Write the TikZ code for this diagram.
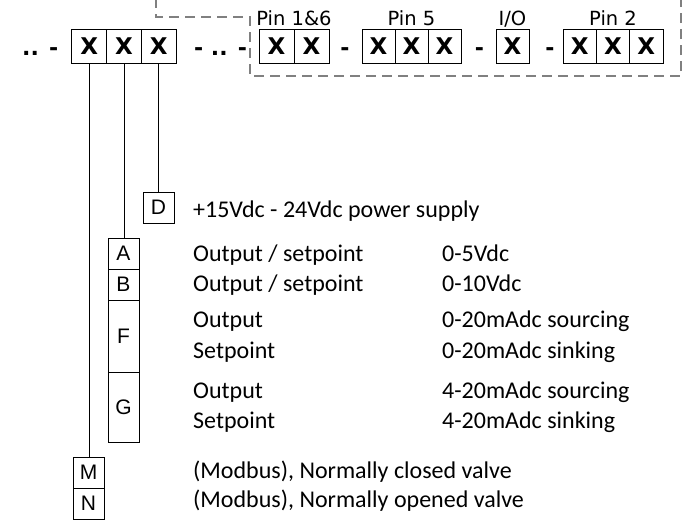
\documentclass[tikz,border=0pt]{standalone}
\usepackage{fontspec}
\setmainfont{Carlito}
\newfontfamily\xfont{DejaVu Sans}
\newfontfamily\pinfont{DejaVu Sans}
\newfontfamily\lfont{Liberation Sans}
\begin{document}
\begin{tikzpicture}[x=1pt,y=-1pt,
  xcell/.style={draw, line width=1pt, inner sep=0pt, minimum height=34pt, minimum width=#1, font=\xfont\bfseries\fontsize{23}{23}\selectfont},
  xcell/.default=34.7pt,
  sep/.style={inner sep=0pt, anchor=base, font=\xfont\bfseries\fontsize{22}{22}\selectfont},
  pinlbl/.style={inner sep=0pt, anchor=base, font=\pinfont\fontsize{19.5}{19.5}\selectfont},
  lbox/.style={draw, line width=1pt, inner sep=0pt, minimum width=31pt, minimum height=#1, font=\lfont\fontsize{21}{21}\selectfont},
  lbox/.default=31pt,
  txt/.style={inner sep=0pt, anchor=base west, font=\fontsize{24}{24}\selectfont},
  wire/.style={line width=1pt},
  frame/.style={draw=black!50, line width=1.2pt, dash pattern=on 10pt off 6pt}]
\useasboundingbox (0,0) rectangle (685,520);
% dashed frame
\draw[frame] (156,-2) -- (156,17) -- (250,17) -- (250,76) -- (681,76) -- (681,-2);
% separators
\node[sep, anchor=base west] (s0) at (22,55) {.. -};
\node[sep, anchor=base west] (s1) at (194,55) {- .. -};
\node[sep] (s2) at (345,55) {-};
\node[sep] (s3) at (479.5,55) {-};
\node[sep] (s4) at (550,55) {-};
% first group
\node[xcell] (g1a) at (89.33,46) {X};
\node[xcell] (g1b) at (124,46) {X};
\node[xcell] (g1c) at (158.67,46) {X};
% Pin 1&6
\node[xcell=35pt] (p1a) at (276.5,46) {X};
\node[xcell=35pt] (p1b) at (311.5,46) {X};
% Pin 5
\node[xcell=33pt] (p5a) at (378.5,46) {X};
\node[xcell=33pt] (p5b) at (411.5,46) {X};
\node[xcell=33pt] (p5c) at (444.5,46) {X};
% I/O
\node[xcell=33pt] (io) at (512.5,46) {X};
% Pin 2
\node[xcell=33.4pt] (p2a) at (579.7,46) {X};
\node[xcell=33.4pt] (p2b) at (613,46) {X};
\node[xcell=33.4pt] (p2c) at (646.3,46) {X};
% pin labels
\node[pinlbl] (l1) at (294,25) {Pin 1\&6};
\node[pinlbl] (l5) at (411.5,25) {Pin 5};
\node[pinlbl] (lio) at (512.5,25) {I/O};
\node[pinlbl] (l2) at (613,25) {Pin 2};
% lower boxes
\node[lbox] (D) at (158.5,207.5) {D};
\node[lbox] (A) at (123.5,253.5) {A};
\node[lbox] (B) at (123.5,284.5) {B};
\node[lbox=72pt] (F) at (123.5,336) {F};
\node[lbox=70pt] (G) at (123.5,407) {G};
\node[lbox] (M) at (88.5,472.5) {M};
\node[lbox] (N) at (88.5,503.5) {N};
% wires
\draw[wire] (g1c.south) -- (g1c.south |- D.north);
\draw[wire] (g1b.south) -- (g1b.south |- A.north);
\draw[wire] (g1a.south) -- (g1a.south |- M.north);
% texts
\node[txt] (t1) at (193,217) {+15Vdc - 24Vdc power supply};
\node[txt] (t2) at (193,261) {Output / setpoint};
\node[txt] (t3) at (193,291) {Output / setpoint};
\node[txt] (t4) at (193,327) {Output};
\node[txt] (t5) at (193,358) {Setpoint};
\node[txt] (t6) at (193,398) {Output};
\node[txt] (t7) at (193,428) {Setpoint};
\node[txt] (t8) at (193,478) {(Modbus), Normally closed valve};
\node[txt] (t9) at (193,507) {(Modbus), Normally opened valve};
\node[txt] (r2) at (442,261) {0-5Vdc};
\node[txt] (r3) at (442,291) {0-10Vdc};
\node[txt] (r4) at (442,327) {0-20mAdc sourcing};
\node[txt] (r5) at (442,358) {0-20mAdc sinking};
\node[txt] (r6) at (442,398) {4-20mAdc sourcing};
\node[txt] (r7) at (442,428) {4-20mAdc sinking};
\end{tikzpicture}
\end{document}
